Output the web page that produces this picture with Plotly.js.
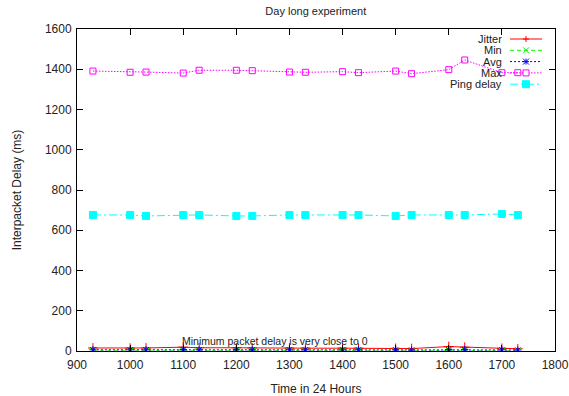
<!DOCTYPE html>
<html>
<head>
<meta charset="utf-8">
<script src="https://cdn.plot.ly/plotly-3.0.1.min.js"></script>
<style>html,body{margin:0;padding:0;background:#fff;}#chart{width:569px;height:396px;}</style>
</head>
<body>
<div id="chart"></div>
<script>
const times = [930, 1000, 1030, 1100, 1130, 1200, 1230, 1300, 1330, 1400, 1430, 1500, 1530, 1600, 1630, 1700, 1730];
const jitter = [15, 14, 15, 19, 16, 16, 15, 15, 14, 14, 14, 13, 12, 22, 19, 13, 11];
const minDelay = [1, 1, 1, 1, 1, 1, 1, 1, 1, 1, 1, 1, 1, 1, 1, 1, 1];
const avgDelay = [6, 6, 6, 7, 6, 6, 6, 6, 6, 6, 6, 6, 5, 7, 7, 6, 5];
const maxDelay = [1391, 1385, 1386, 1381, 1395, 1395, 1393, 1386, 1385, 1388, 1383, 1391, 1378, 1398, 1446, 1383, 1383];
const pingDelay = [676, 676, 671, 676, 676, 671, 671, 676, 676, 676, 676, 671, 676, 676, 676, 681, 676];
const seriesNames = ['Jitter', 'Min', 'Avg', 'Max', 'Ping delay'];
const xTicks = [900, 1000, 1100, 1200, 1300, 1400, 1500, 1600, 1700, 1800];
const yTicks = [0, 200, 400, 600, 800, 1000, 1200, 1400, 1600];
const noteText = "Minimum packet delay is very close to 0";
const noteX = 1273, noteY = 50;

const F = "Liberation Sans, Arial, sans-serif";
const TXT = '#222';
const styles = [
  {color: '#ff0000', dash: 'solid', symbol: 'cross-thin-open', size: 7, key: 'plus'},
  {color: '#00ff00', dash: '4px,3px', symbol: 'x-thin-open', size: 6, key: 'x'},
  {color: '#0000ff', dash: '2px,2px', symbol: 'asterisk-open', size: 6, key: 'star'},
  {color: '#ff00ff', dash: '1.5px,1.5px', symbol: 'square-open', size: 6, key: 'sq'},
  {color: '#00ffff', dash: '8px,3px,2px,3px', symbol: 'square', size: 7, key: 'fsq'}
];
const values = [jitter, minDelay, avgDelay, maxDelay, pingDelay];
const data = values.map((y, i) => ({
  x: times, y: y, name: seriesNames[i], type: 'scatter', mode: 'lines+markers', showlegend: false,
  line: {color: styles[i].color, width: 1, dash: styles[i].dash},
  marker: {color: styles[i].color, symbol: styles[i].symbol, size: styles[i].size,
           line: {color: styles[i].color, width: 1}}
}));

// plot-area geometry (pixels) for a gnuplot-style key drawn in paper coordinates
const W = 569, H = 396, M = {l: 77, r: 14, t: 29, b: 45};
const PW = W - M.l - M.r, PH = H - M.t - M.b;
const px = v => (v - M.l) / PW;
const py = v => (H - M.b - v) / PH;
const keyTextRight = 504, keyX0 = 510, keyX1 = 542, keyMark = 526, keyTop = 39, keyStep = 11.3;
const shapes = [], annotations = [];
seriesNames.forEach((name, i) => {
  const yPix = keyTop + i * keyStep;
  const s = styles[i];
  annotations.push({xref: 'paper', yref: 'paper', x: px(keyTextRight), y: py(yPix), xanchor: 'right', yanchor: 'middle',
    text: name, showarrow: false, font: {family: F, size: 11, color: TXT}});
  shapes.push({type: 'line', xref: 'paper', yref: 'paper', x0: px(keyX0), x1: px(keyX1), y0: py(yPix), y1: py(yPix),
    line: {color: s.color, width: 1, dash: s.dash}});
  const h = s.key === 'fsq' ? 3.5 : 3;
  const seg = (ax, ay, bx, by) => shapes.push({type: 'line', xref: 'paper', yref: 'paper',
    x0: px(keyMark + ax), y0: py(yPix + ay), x1: px(keyMark + bx), y1: py(yPix + by), line: {color: s.color, width: 1}});
  if (s.key === 'plus' || s.key === 'star') { seg(-h, 0, h, 0); seg(0, -h, 0, h); }
  if (s.key === 'x' || s.key === 'star') { seg(-h, -h, h, h); seg(-h, h, h, -h); }
  if (s.key === 'sq' || s.key === 'fsq') {
    shapes.push({type: 'rect', xref: 'paper', yref: 'paper', x0: px(keyMark - h), x1: px(keyMark + h),
      y0: py(yPix + h), y1: py(yPix - h), line: {color: s.color, width: 1},
      fillcolor: s.key === 'fsq' ? s.color : 'rgba(255,255,255,1)'});
  }
});
annotations.push({x: noteX, y: noteY, xref: 'x', yref: 'y', text: noteText, showarrow: false,
  font: {family: F, size: 10.5, color: TXT}});

const axisBase = {showgrid: false, zeroline: false, showline: true, linecolor: '#000', linewidth: 1,
  mirror: 'allticks', ticks: 'inside', ticklen: 6, tickcolor: '#000',
  tickfont: {family: F, size: 12, color: TXT}};
const layout = {
  width: W, height: H, margin: M,
  paper_bgcolor: '#fff', plot_bgcolor: '#fff',
  font: {family: F, size: 12, color: TXT},
  title: {text: 'Day long experiment', x: 0.555, xanchor: 'center', y: 0.972, yanchor: 'middle', font: {family: F, size: 11, color: TXT}},
  xaxis: Object.assign({}, axisBase, {range: [900, 1800], tickvals: xTicks, ticklabelstandoff: 3,
    title: {text: 'Time in 24 Hours', standoff: 21, font: {family: F, size: 12, color: TXT}}}),
  yaxis: Object.assign({}, axisBase, {range: [0, 1600], tickvals: yTicks, ticklabelstandoff: 2,
    title: {text: 'Interpacket Delay (ms)', standoff: 20, font: {family: F, size: 12, color: TXT}}}),
  showlegend: false,
  shapes: shapes,
  annotations: annotations
};
Plotly.newPlot('chart', data, layout, {displayModeBar: false, staticPlot: true});
</script>
</body>
</html>
